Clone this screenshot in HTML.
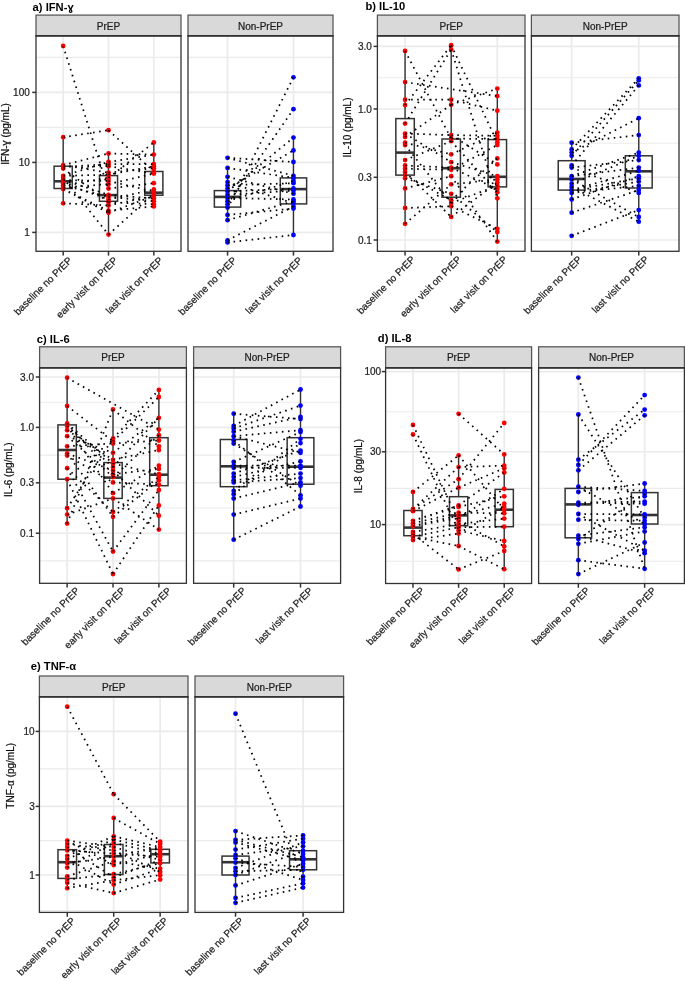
<!DOCTYPE html>
<html><head><meta charset="utf-8"><style>
html,body{margin:0;padding:0;background:#fff;}
body{width:685px;height:981px;overflow:hidden;font-family:"Liberation Sans",sans-serif;}
svg{display:block;}
</style></head><body>
<svg width="685" height="981" viewBox="0 0 685 981">
<rect width="685" height="981" fill="#fff"/>
<line x1="32.2" y1="92.4" x2="36" y2="92.4" stroke="#333333" stroke-width="1.5"/>
<line x1="32.2" y1="162.4" x2="36" y2="162.4" stroke="#333333" stroke-width="1.5"/>
<line x1="32.2" y1="232.4" x2="36" y2="232.4" stroke="#333333" stroke-width="1.5"/>
<rect x="36" y="15.1" width="145" height="20.9" fill="#D9D9D9" stroke="#555555" stroke-width="1.25"/>
<rect x="36" y="36" width="145" height="215.3" fill="#fff"/>
<line x1="36" y1="57.4" x2="181" y2="57.4" stroke="#EBEBEB" stroke-width="1.15"/>
<line x1="36" y1="127.4" x2="181" y2="127.4" stroke="#EBEBEB" stroke-width="1.15"/>
<line x1="36" y1="197.4" x2="181" y2="197.4" stroke="#EBEBEB" stroke-width="1.15"/>
<line x1="36" y1="92.4" x2="181" y2="92.4" stroke="#EBEBEB" stroke-width="1.6"/>
<line x1="36" y1="162.4" x2="181" y2="162.4" stroke="#EBEBEB" stroke-width="1.6"/>
<line x1="36" y1="232.4" x2="181" y2="232.4" stroke="#EBEBEB" stroke-width="1.6"/>
<line x1="63.19" y1="36" x2="63.19" y2="251.3" stroke="#EBEBEB" stroke-width="1.7"/>
<line x1="108.5" y1="36" x2="108.5" y2="251.3" stroke="#EBEBEB" stroke-width="1.7"/>
<line x1="153.81" y1="36" x2="153.81" y2="251.3" stroke="#EBEBEB" stroke-width="1.7"/>
<line x1="63.19" y1="137.2" x2="63.19" y2="166.2" stroke="#333333" stroke-width="1.4"/>
<line x1="63.19" y1="188.5" x2="63.19" y2="203.3" stroke="#333333" stroke-width="1.4"/>
<rect x="54.12" y="166.2" width="18.12" height="22.3" fill="none" stroke="#333333" stroke-width="1.5"/>
<line x1="54.12" y1="181.3" x2="72.25" y2="181.3" stroke="#333333" stroke-width="2.6"/>
<line x1="108.5" y1="153.5" x2="108.5" y2="175.6" stroke="#333333" stroke-width="1.4"/>
<line x1="108.5" y1="201.3" x2="108.5" y2="234.6" stroke="#333333" stroke-width="1.4"/>
<rect x="99.44" y="175.6" width="18.12" height="25.7" fill="none" stroke="#333333" stroke-width="1.5"/>
<line x1="99.44" y1="195.1" x2="117.56" y2="195.1" stroke="#333333" stroke-width="2.6"/>
<line x1="153.81" y1="142.5" x2="153.81" y2="171.5" stroke="#333333" stroke-width="1.4"/>
<line x1="153.81" y1="195.2" x2="153.81" y2="206.4" stroke="#333333" stroke-width="1.4"/>
<rect x="144.75" y="171.5" width="18.12" height="23.7" fill="none" stroke="#333333" stroke-width="1.5"/>
<line x1="144.75" y1="192.7" x2="162.88" y2="192.7" stroke="#333333" stroke-width="2.6"/>
<g fill="#FF0000"><circle cx="63.19" cy="46" r="2.4"/><circle cx="63.19" cy="137.2" r="2.4"/><circle cx="63.19" cy="165.2" r="2.4"/><circle cx="63.19" cy="166.9" r="2.4"/><circle cx="63.19" cy="168.5" r="2.4"/><circle cx="63.19" cy="175.8" r="2.4"/><circle cx="63.19" cy="177.9" r="2.4"/><circle cx="63.19" cy="180" r="2.4"/><circle cx="63.19" cy="183.2" r="2.4"/><circle cx="63.19" cy="185.3" r="2.4"/><circle cx="63.19" cy="187.4" r="2.4"/><circle cx="63.19" cy="189.1" r="2.4"/><circle cx="63.19" cy="203.3" r="2.4"/><circle cx="108.5" cy="130.2" r="2.4"/><circle cx="108.5" cy="153.5" r="2.4"/><circle cx="108.5" cy="162" r="2.4"/><circle cx="108.5" cy="164.1" r="2.4"/><circle cx="108.5" cy="166.2" r="2.4"/><circle cx="108.5" cy="172.6" r="2.4"/><circle cx="108.5" cy="174.7" r="2.4"/><circle cx="108.5" cy="177.9" r="2.4"/><circle cx="108.5" cy="181" r="2.4"/><circle cx="108.5" cy="184.2" r="2.4"/><circle cx="108.5" cy="188.5" r="2.4"/><circle cx="108.5" cy="194.8" r="2.4"/><circle cx="108.5" cy="196.9" r="2.4"/><circle cx="108.5" cy="199.5" r="2.4"/><circle cx="108.5" cy="202.2" r="2.4"/><circle cx="108.5" cy="205.4" r="2.4"/><circle cx="108.5" cy="210.7" r="2.4"/><circle cx="108.5" cy="212.8" r="2.4"/><circle cx="108.5" cy="234.6" r="2.4"/><circle cx="153.81" cy="142.5" r="2.4"/><circle cx="153.81" cy="154.6" r="2.4"/><circle cx="153.81" cy="164.1" r="2.4"/><circle cx="153.81" cy="166.2" r="2.4"/><circle cx="153.81" cy="168.3" r="2.4"/><circle cx="153.81" cy="171.5" r="2.4"/><circle cx="153.81" cy="173.6" r="2.4"/><circle cx="153.81" cy="183.2" r="2.4"/><circle cx="153.81" cy="189.5" r="2.4"/><circle cx="153.81" cy="191.6" r="2.4"/><circle cx="153.81" cy="193.7" r="2.4"/><circle cx="153.81" cy="195.9" r="2.4"/><circle cx="153.81" cy="198.6" r="2.4"/><circle cx="153.81" cy="201.2" r="2.4"/><circle cx="153.81" cy="204.3" r="2.4"/><circle cx="153.81" cy="206.4" r="2.4"/></g>
<path d="M63.19 46L108.5 190M63.19 137.2L108.5 130.2M63.19 165.2L108.5 172.6M63.19 165.2L108.5 153.5M63.19 166.9L108.5 164.1M63.19 166.9L108.5 166.2M63.19 168.5L108.5 202.2M63.19 175.8L108.5 174.7M63.19 175.8L108.5 162M63.19 177.9L108.5 234.6M63.19 180L108.5 181M63.19 180L108.5 194.8M63.19 183.2L108.5 199.5M63.19 185.3L108.5 196.9M63.19 185.3L108.5 177.9M63.19 187.4L108.5 184.2M63.19 189.1L108.5 210.7M63.19 189.1L108.5 212.8M63.19 203.3L108.5 205.4M108.5 130.2L153.81 171.5M108.5 177.9L153.81 142.5M108.5 153.5L153.81 154.6M108.5 162L153.81 154.6M108.5 164.1L153.81 164.1M108.5 166.2L153.81 173.6M108.5 172.6L153.81 168.3M108.5 174.7L153.81 166.2M108.5 181L153.81 191.6M108.5 184.2L153.81 173.6M108.5 188.5L153.81 183.2M108.5 194.8L153.81 198.6M108.5 196.9L153.81 201.2M108.5 199.5L153.81 189.5M108.5 202.2L153.81 204.3M108.5 205.4L153.81 195.9M108.5 210.7L153.81 206.4M108.5 212.8L153.81 195.9M108.5 234.6L153.81 193.7" fill="none" stroke="#000" stroke-width="1.75" stroke-dasharray="1.6 4.45"/>
<rect x="36" y="36" width="145" height="215.3" fill="none" stroke="#333333" stroke-width="1.3"/>
<line x1="35.5" y1="35.7" x2="181.5" y2="35.7" stroke="#333333" stroke-width="1.5"/>
<line x1="63.19" y1="251.3" x2="63.19" y2="255.6" stroke="#333333" stroke-width="1.5"/>
<line x1="108.5" y1="251.3" x2="108.5" y2="255.6" stroke="#333333" stroke-width="1.5"/>
<line x1="153.81" y1="251.3" x2="153.81" y2="255.6" stroke="#333333" stroke-width="1.5"/>
<rect x="188" y="15.1" width="145" height="20.9" fill="#D9D9D9" stroke="#555555" stroke-width="1.25"/>
<rect x="188" y="36" width="145" height="215.3" fill="#fff"/>
<line x1="188" y1="57.4" x2="333" y2="57.4" stroke="#EBEBEB" stroke-width="1.15"/>
<line x1="188" y1="127.4" x2="333" y2="127.4" stroke="#EBEBEB" stroke-width="1.15"/>
<line x1="188" y1="197.4" x2="333" y2="197.4" stroke="#EBEBEB" stroke-width="1.15"/>
<line x1="188" y1="92.4" x2="333" y2="92.4" stroke="#EBEBEB" stroke-width="1.6"/>
<line x1="188" y1="162.4" x2="333" y2="162.4" stroke="#EBEBEB" stroke-width="1.6"/>
<line x1="188" y1="232.4" x2="333" y2="232.4" stroke="#EBEBEB" stroke-width="1.6"/>
<line x1="227.55" y1="36" x2="227.55" y2="251.3" stroke="#EBEBEB" stroke-width="1.7"/>
<line x1="293.45" y1="36" x2="293.45" y2="251.3" stroke="#EBEBEB" stroke-width="1.7"/>
<line x1="227.55" y1="167.9" x2="227.55" y2="190.6" stroke="#333333" stroke-width="1.4"/>
<line x1="227.55" y1="207.1" x2="227.55" y2="220.2" stroke="#333333" stroke-width="1.4"/>
<rect x="214.36" y="190.6" width="26.36" height="16.5" fill="none" stroke="#333333" stroke-width="1.5"/>
<line x1="214.36" y1="196.9" x2="240.73" y2="196.9" stroke="#333333" stroke-width="2.6"/>
<line x1="293.45" y1="137.6" x2="293.45" y2="177.9" stroke="#333333" stroke-width="1.4"/>
<line x1="293.45" y1="203.9" x2="293.45" y2="235" stroke="#333333" stroke-width="1.4"/>
<rect x="280.27" y="177.9" width="26.36" height="26" fill="none" stroke="#333333" stroke-width="1.5"/>
<line x1="280.27" y1="189.1" x2="306.64" y2="189.1" stroke="#333333" stroke-width="2.6"/>
<g fill="#0000FF"><circle cx="227.55" cy="157.8" r="2.4"/><circle cx="227.55" cy="167.9" r="2.4"/><circle cx="227.55" cy="176.8" r="2.4"/><circle cx="227.55" cy="182.1" r="2.4"/><circle cx="227.55" cy="185.3" r="2.4"/><circle cx="227.55" cy="188.5" r="2.4"/><circle cx="227.55" cy="191.6" r="2.4"/><circle cx="227.55" cy="194.8" r="2.4"/><circle cx="227.55" cy="198" r="2.4"/><circle cx="227.55" cy="201.2" r="2.4"/><circle cx="227.55" cy="204.3" r="2.4"/><circle cx="227.55" cy="207.5" r="2.4"/><circle cx="227.55" cy="214.9" r="2.4"/><circle cx="227.55" cy="220.2" r="2.4"/><circle cx="227.55" cy="240.3" r="2.4"/><circle cx="227.55" cy="242.4" r="2.4"/><circle cx="293.45" cy="77.3" r="2.4"/><circle cx="293.45" cy="109.2" r="2.4"/><circle cx="293.45" cy="137.6" r="2.4"/><circle cx="293.45" cy="150.4" r="2.4"/><circle cx="293.45" cy="162" r="2.4"/><circle cx="293.45" cy="175.8" r="2.4"/><circle cx="293.45" cy="177.9" r="2.4"/><circle cx="293.45" cy="181" r="2.4"/><circle cx="293.45" cy="183.2" r="2.4"/><circle cx="293.45" cy="188.5" r="2.4"/><circle cx="293.45" cy="190.6" r="2.4"/><circle cx="293.45" cy="193.7" r="2.4"/><circle cx="293.45" cy="199.5" r="2.4"/><circle cx="293.45" cy="201.2" r="2.4"/><circle cx="293.45" cy="203.3" r="2.4"/><circle cx="293.45" cy="206.4" r="2.4"/><circle cx="293.45" cy="208.6" r="2.4"/><circle cx="293.45" cy="235" r="2.4"/></g>
<path d="M227.55 208.6L293.45 77.3M227.55 204.3L293.45 109.2M227.55 240.3L293.45 206.4M227.55 242.4L293.45 235M227.55 157.8L293.45 175.8M227.55 157.8L293.45 162M227.55 167.9L293.45 177.9M227.55 176.8L293.45 193.7M227.55 182.1L293.45 203.3M227.55 185.3L293.45 183.2M227.55 188.5L293.45 150.4M227.55 191.6L293.45 137.6M227.55 191.6L293.45 188.5M227.55 194.8L293.45 190.6M227.55 198L293.45 199.5M227.55 201.2L293.45 181M227.55 214.9L293.45 208.6M227.55 220.2L293.45 201.2" fill="none" stroke="#000" stroke-width="1.75" stroke-dasharray="1.6 4.45"/>
<rect x="188" y="36" width="145" height="215.3" fill="none" stroke="#333333" stroke-width="1.3"/>
<line x1="187.5" y1="35.7" x2="333.5" y2="35.7" stroke="#333333" stroke-width="1.5"/>
<line x1="227.55" y1="251.3" x2="227.55" y2="255.6" stroke="#333333" stroke-width="1.5"/>
<line x1="293.45" y1="251.3" x2="293.45" y2="255.6" stroke="#333333" stroke-width="1.5"/>
<line x1="373.6" y1="46.4" x2="377.4" y2="46.4" stroke="#333333" stroke-width="1.5"/>
<line x1="373.6" y1="109" x2="377.4" y2="109" stroke="#333333" stroke-width="1.5"/>
<line x1="373.6" y1="177.3" x2="377.4" y2="177.3" stroke="#333333" stroke-width="1.5"/>
<line x1="373.6" y1="240" x2="377.4" y2="240" stroke="#333333" stroke-width="1.5"/>
<rect x="377.4" y="15.1" width="147.6" height="20.9" fill="#D9D9D9" stroke="#555555" stroke-width="1.25"/>
<rect x="377.4" y="36" width="147.6" height="215.3" fill="#fff"/>
<line x1="377.4" y1="77.7" x2="525" y2="77.7" stroke="#EBEBEB" stroke-width="1.15"/>
<line x1="377.4" y1="143.2" x2="525" y2="143.2" stroke="#EBEBEB" stroke-width="1.15"/>
<line x1="377.4" y1="208.6" x2="525" y2="208.6" stroke="#EBEBEB" stroke-width="1.15"/>
<line x1="377.4" y1="46.4" x2="525" y2="46.4" stroke="#EBEBEB" stroke-width="1.6"/>
<line x1="377.4" y1="109" x2="525" y2="109" stroke="#EBEBEB" stroke-width="1.6"/>
<line x1="377.4" y1="177.3" x2="525" y2="177.3" stroke="#EBEBEB" stroke-width="1.6"/>
<line x1="377.4" y1="240" x2="525" y2="240" stroke="#EBEBEB" stroke-width="1.6"/>
<line x1="405.07" y1="36" x2="405.07" y2="251.3" stroke="#EBEBEB" stroke-width="1.7"/>
<line x1="451.2" y1="36" x2="451.2" y2="251.3" stroke="#EBEBEB" stroke-width="1.7"/>
<line x1="497.32" y1="36" x2="497.32" y2="251.3" stroke="#EBEBEB" stroke-width="1.7"/>
<line x1="405.07" y1="51" x2="405.07" y2="118.6" stroke="#333333" stroke-width="1.4"/>
<line x1="405.07" y1="175.1" x2="405.07" y2="223.8" stroke="#333333" stroke-width="1.4"/>
<rect x="395.85" y="118.6" width="18.45" height="56.5" fill="none" stroke="#333333" stroke-width="1.5"/>
<line x1="395.85" y1="152.6" x2="414.3" y2="152.6" stroke="#333333" stroke-width="2.6"/>
<line x1="451.2" y1="45.2" x2="451.2" y2="139" stroke="#333333" stroke-width="1.4"/>
<line x1="451.2" y1="197.2" x2="451.2" y2="216.9" stroke="#333333" stroke-width="1.4"/>
<rect x="441.97" y="139" width="18.45" height="58.2" fill="none" stroke="#333333" stroke-width="1.5"/>
<line x1="441.97" y1="168.2" x2="460.43" y2="168.2" stroke="#333333" stroke-width="2.6"/>
<line x1="497.32" y1="88.6" x2="497.32" y2="139.6" stroke="#333333" stroke-width="1.4"/>
<line x1="497.32" y1="186.9" x2="497.32" y2="241.6" stroke="#333333" stroke-width="1.4"/>
<rect x="488.1" y="139.6" width="18.45" height="47.3" fill="none" stroke="#333333" stroke-width="1.5"/>
<line x1="488.1" y1="176.8" x2="506.55" y2="176.8" stroke="#333333" stroke-width="2.6"/>
<g fill="#FF0000"><circle cx="405.07" cy="51" r="2.4"/><circle cx="405.07" cy="82.1" r="2.4"/><circle cx="405.07" cy="99.7" r="2.4"/><circle cx="405.07" cy="105.1" r="2.4"/><circle cx="405.07" cy="123.6" r="2.4"/><circle cx="405.07" cy="133.6" r="2.4"/><circle cx="405.07" cy="136.9" r="2.4"/><circle cx="405.07" cy="142.7" r="2.4"/><circle cx="405.07" cy="145" r="2.4"/><circle cx="405.07" cy="160.1" r="2.4"/><circle cx="405.07" cy="165.5" r="2.4"/><circle cx="405.07" cy="168.7" r="2.4"/><circle cx="405.07" cy="171.9" r="2.4"/><circle cx="405.07" cy="175.1" r="2.4"/><circle cx="405.07" cy="178.3" r="2.4"/><circle cx="405.07" cy="188.4" r="2.4"/><circle cx="405.07" cy="208" r="2.4"/><circle cx="405.07" cy="223.8" r="2.4"/><circle cx="451.2" cy="45.2" r="2.4"/><circle cx="451.2" cy="49.5" r="2.4"/><circle cx="451.2" cy="99.7" r="2.4"/><circle cx="451.2" cy="104.7" r="2.4"/><circle cx="451.2" cy="135.1" r="2.4"/><circle cx="451.2" cy="138.6" r="2.4"/><circle cx="451.2" cy="141.2" r="2.4"/><circle cx="451.2" cy="154.3" r="2.4"/><circle cx="451.2" cy="162.2" r="2.4"/><circle cx="451.2" cy="167.6" r="2.4"/><circle cx="451.2" cy="169.8" r="2.4"/><circle cx="451.2" cy="176.2" r="2.4"/><circle cx="451.2" cy="184.3" r="2.4"/><circle cx="451.2" cy="193.8" r="2.4"/><circle cx="451.2" cy="200.2" r="2.4"/><circle cx="451.2" cy="203" r="2.4"/><circle cx="451.2" cy="206.2" r="2.4"/><circle cx="451.2" cy="216.9" r="2.4"/><circle cx="497.32" cy="88.6" r="2.4"/><circle cx="497.32" cy="96.1" r="2.4"/><circle cx="497.32" cy="110.7" r="2.4"/><circle cx="497.32" cy="132.6" r="2.4"/><circle cx="497.32" cy="135.8" r="2.4"/><circle cx="497.32" cy="139" r="2.4"/><circle cx="497.32" cy="142.2" r="2.4"/><circle cx="497.32" cy="145" r="2.4"/><circle cx="497.32" cy="158.4" r="2.4"/><circle cx="497.32" cy="164.4" r="2.4"/><circle cx="497.32" cy="176.2" r="2.4"/><circle cx="497.32" cy="179.4" r="2.4"/><circle cx="497.32" cy="182.6" r="2.4"/><circle cx="497.32" cy="185.8" r="2.4"/><circle cx="497.32" cy="189.1" r="2.4"/><circle cx="497.32" cy="192.3" r="2.4"/><circle cx="497.32" cy="198.3" r="2.4"/><circle cx="497.32" cy="228.8" r="2.4"/><circle cx="497.32" cy="232" r="2.4"/><circle cx="497.32" cy="241.6" r="2.4"/></g>
<path d="M405.07 51L451.2 138.6M405.07 99.7L451.2 99.7M405.07 105.1L451.2 45.2M405.07 123.6L451.2 49.5M405.07 133.6L451.2 162.2M405.07 133.6L451.2 135.1M405.07 136.9L451.2 104.7M405.07 142.7L451.2 154.3M405.07 145L451.2 203M405.07 160.1L451.2 141.2M405.07 165.5L451.2 167.6M405.07 168.7L451.2 169.8M405.07 171.9L451.2 216.9M405.07 175.1L451.2 200.2M405.07 178.3L451.2 193.8M405.07 188.4L451.2 176.2M405.07 208L451.2 206.2M405.07 223.8L451.2 184.3M451.2 45.2L497.32 142.2M451.2 49.5L497.32 198.3M451.2 99.7L497.32 110.7M451.2 104.7L497.32 88.6M451.2 135.1L497.32 164.4M451.2 135.1L497.32 135.8M451.2 138.6L497.32 139M451.2 141.2L497.32 192.3M451.2 154.3L497.32 132.6M451.2 162.2L497.32 176.2M451.2 167.6L497.32 189.1M451.2 169.8L497.32 145M451.2 176.2L497.32 241.6M451.2 184.3L497.32 179.4M451.2 193.8L497.32 232M451.2 200.2L497.32 158.4M451.2 203L497.32 185.8M451.2 206.2L497.32 228.8M451.2 216.9L497.32 182.6M405.07 82.1L497.32 96.1" fill="none" stroke="#000" stroke-width="1.75" stroke-dasharray="1.6 4.45"/>
<rect x="377.4" y="36" width="147.6" height="215.3" fill="none" stroke="#333333" stroke-width="1.3"/>
<line x1="376.9" y1="35.7" x2="525.5" y2="35.7" stroke="#333333" stroke-width="1.5"/>
<line x1="405.07" y1="251.3" x2="405.07" y2="255.6" stroke="#333333" stroke-width="1.5"/>
<line x1="451.2" y1="251.3" x2="451.2" y2="255.6" stroke="#333333" stroke-width="1.5"/>
<line x1="497.32" y1="251.3" x2="497.32" y2="255.6" stroke="#333333" stroke-width="1.5"/>
<rect x="531.4" y="15.1" width="147.6" height="20.9" fill="#D9D9D9" stroke="#555555" stroke-width="1.25"/>
<rect x="531.4" y="36" width="147.6" height="215.3" fill="#fff"/>
<line x1="531.4" y1="77.7" x2="679" y2="77.7" stroke="#EBEBEB" stroke-width="1.15"/>
<line x1="531.4" y1="143.2" x2="679" y2="143.2" stroke="#EBEBEB" stroke-width="1.15"/>
<line x1="531.4" y1="208.6" x2="679" y2="208.6" stroke="#EBEBEB" stroke-width="1.15"/>
<line x1="531.4" y1="46.4" x2="679" y2="46.4" stroke="#EBEBEB" stroke-width="1.6"/>
<line x1="531.4" y1="109" x2="679" y2="109" stroke="#EBEBEB" stroke-width="1.6"/>
<line x1="531.4" y1="177.3" x2="679" y2="177.3" stroke="#EBEBEB" stroke-width="1.6"/>
<line x1="531.4" y1="240" x2="679" y2="240" stroke="#EBEBEB" stroke-width="1.6"/>
<line x1="571.65" y1="36" x2="571.65" y2="251.3" stroke="#EBEBEB" stroke-width="1.7"/>
<line x1="638.75" y1="36" x2="638.75" y2="251.3" stroke="#EBEBEB" stroke-width="1.7"/>
<line x1="571.65" y1="142.7" x2="571.65" y2="160.7" stroke="#333333" stroke-width="1.4"/>
<line x1="571.65" y1="190.1" x2="571.65" y2="212.7" stroke="#333333" stroke-width="1.4"/>
<rect x="558.24" y="160.7" width="26.84" height="29.4" fill="none" stroke="#333333" stroke-width="1.5"/>
<line x1="558.24" y1="179" x2="585.07" y2="179" stroke="#333333" stroke-width="2.6"/>
<line x1="638.75" y1="118.2" x2="638.75" y2="155.8" stroke="#333333" stroke-width="1.4"/>
<line x1="638.75" y1="188" x2="638.75" y2="221.7" stroke="#333333" stroke-width="1.4"/>
<rect x="625.33" y="155.8" width="26.84" height="32.2" fill="none" stroke="#333333" stroke-width="1.5"/>
<line x1="625.33" y1="171.3" x2="652.16" y2="171.3" stroke="#333333" stroke-width="2.6"/>
<g fill="#0000FF"><circle cx="571.65" cy="142.7" r="2.4"/><circle cx="571.65" cy="149.4" r="2.4"/><circle cx="571.65" cy="152.6" r="2.4"/><circle cx="571.65" cy="155.8" r="2.4"/><circle cx="571.65" cy="165.5" r="2.4"/><circle cx="571.65" cy="167.6" r="2.4"/><circle cx="571.65" cy="176.2" r="2.4"/><circle cx="571.65" cy="179.4" r="2.4"/><circle cx="571.65" cy="183.7" r="2.4"/><circle cx="571.65" cy="186.9" r="2.4"/><circle cx="571.65" cy="190.1" r="2.4"/><circle cx="571.65" cy="192.9" r="2.4"/><circle cx="571.65" cy="199.4" r="2.4"/><circle cx="571.65" cy="212.7" r="2.4"/><circle cx="571.65" cy="235.8" r="2.4"/><circle cx="638.75" cy="78.3" r="2.4"/><circle cx="638.75" cy="80.4" r="2.4"/><circle cx="638.75" cy="85.4" r="2.4"/><circle cx="638.75" cy="118.2" r="2.4"/><circle cx="638.75" cy="135.1" r="2.4"/><circle cx="638.75" cy="152.6" r="2.4"/><circle cx="638.75" cy="155.8" r="2.4"/><circle cx="638.75" cy="160.1" r="2.4"/><circle cx="638.75" cy="167.6" r="2.4"/><circle cx="638.75" cy="170.8" r="2.4"/><circle cx="638.75" cy="176.2" r="2.4"/><circle cx="638.75" cy="178.3" r="2.4"/><circle cx="638.75" cy="181.6" r="2.4"/><circle cx="638.75" cy="185.8" r="2.4"/><circle cx="638.75" cy="190.1" r="2.4"/><circle cx="638.75" cy="192.9" r="2.4"/><circle cx="638.75" cy="210.1" r="2.4"/><circle cx="638.75" cy="217" r="2.4"/><circle cx="638.75" cy="221.7" r="2.4"/></g>
<path d="M571.65 149.4L638.75 78.3M571.65 165.5L638.75 85.4M571.65 155.8L638.75 80.4M571.65 152.6L638.75 118.2M571.65 142.7L638.75 135.1M571.65 235.8L638.75 210.1M571.65 212.7L638.75 190.1M571.65 179.4L638.75 217M571.65 186.9L638.75 221.7M571.65 167.6L638.75 160.1M571.65 167.6L638.75 192.9M571.65 176.2L638.75 152.6M571.65 176.2L638.75 167.6M571.65 183.7L638.75 155.8M571.65 190.1L638.75 170.8M571.65 190.1L638.75 178.3M571.65 192.9L638.75 181.6M571.65 192.9L638.75 185.8M571.65 199.4L638.75 176.2" fill="none" stroke="#000" stroke-width="1.75" stroke-dasharray="1.6 4.45"/>
<rect x="531.4" y="36" width="147.6" height="215.3" fill="none" stroke="#333333" stroke-width="1.3"/>
<line x1="530.9" y1="35.7" x2="679.5" y2="35.7" stroke="#333333" stroke-width="1.5"/>
<line x1="571.65" y1="251.3" x2="571.65" y2="255.6" stroke="#333333" stroke-width="1.5"/>
<line x1="638.75" y1="251.3" x2="638.75" y2="255.6" stroke="#333333" stroke-width="1.5"/>
<line x1="35.8" y1="377" x2="39.6" y2="377" stroke="#333333" stroke-width="1.5"/>
<line x1="35.8" y1="427.4" x2="39.6" y2="427.4" stroke="#333333" stroke-width="1.5"/>
<line x1="35.8" y1="482.8" x2="39.6" y2="482.8" stroke="#333333" stroke-width="1.5"/>
<line x1="35.8" y1="533.2" x2="39.6" y2="533.2" stroke="#333333" stroke-width="1.5"/>
<rect x="39.6" y="346.8" width="146.8" height="21.2" fill="#D9D9D9" stroke="#555555" stroke-width="1.25"/>
<rect x="39.6" y="368" width="146.8" height="215.3" fill="#fff"/>
<line x1="39.6" y1="402.2" x2="186.4" y2="402.2" stroke="#EBEBEB" stroke-width="1.15"/>
<line x1="39.6" y1="455.1" x2="186.4" y2="455.1" stroke="#EBEBEB" stroke-width="1.15"/>
<line x1="39.6" y1="508" x2="186.4" y2="508" stroke="#EBEBEB" stroke-width="1.15"/>
<line x1="39.6" y1="560.8" x2="186.4" y2="560.8" stroke="#EBEBEB" stroke-width="1.15"/>
<line x1="39.6" y1="377" x2="186.4" y2="377" stroke="#EBEBEB" stroke-width="1.6"/>
<line x1="39.6" y1="427.4" x2="186.4" y2="427.4" stroke="#EBEBEB" stroke-width="1.6"/>
<line x1="39.6" y1="482.8" x2="186.4" y2="482.8" stroke="#EBEBEB" stroke-width="1.6"/>
<line x1="39.6" y1="533.2" x2="186.4" y2="533.2" stroke="#EBEBEB" stroke-width="1.6"/>
<line x1="67.12" y1="368" x2="67.12" y2="583.3" stroke="#EBEBEB" stroke-width="1.7"/>
<line x1="113" y1="368" x2="113" y2="583.3" stroke="#EBEBEB" stroke-width="1.7"/>
<line x1="158.88" y1="368" x2="158.88" y2="583.3" stroke="#EBEBEB" stroke-width="1.7"/>
<line x1="67.12" y1="377.7" x2="67.12" y2="424.9" stroke="#333333" stroke-width="1.4"/>
<line x1="67.12" y1="479.2" x2="67.12" y2="523.6" stroke="#333333" stroke-width="1.4"/>
<rect x="57.95" y="424.9" width="18.35" height="54.3" fill="none" stroke="#333333" stroke-width="1.5"/>
<line x1="57.95" y1="450" x2="76.3" y2="450" stroke="#333333" stroke-width="2.6"/>
<line x1="113" y1="409.4" x2="113" y2="462.6" stroke="#333333" stroke-width="1.4"/>
<line x1="113" y1="498.4" x2="113" y2="551.5" stroke="#333333" stroke-width="1.4"/>
<rect x="103.83" y="462.6" width="18.35" height="35.8" fill="none" stroke="#333333" stroke-width="1.5"/>
<line x1="103.83" y1="477.6" x2="122.17" y2="477.6" stroke="#333333" stroke-width="2.6"/>
<line x1="158.88" y1="389.9" x2="158.88" y2="437.7" stroke="#333333" stroke-width="1.4"/>
<line x1="158.88" y1="485.7" x2="158.88" y2="529.6" stroke="#333333" stroke-width="1.4"/>
<rect x="149.7" y="437.7" width="18.35" height="48" fill="none" stroke="#333333" stroke-width="1.5"/>
<line x1="149.7" y1="474.7" x2="168.05" y2="474.7" stroke="#333333" stroke-width="2.6"/>
<g fill="#FF0000"><circle cx="67.12" cy="377.7" r="2.4"/><circle cx="67.12" cy="406" r="2.4"/><circle cx="67.12" cy="423.4" r="2.4"/><circle cx="67.12" cy="425.9" r="2.4"/><circle cx="67.12" cy="430.2" r="2.4"/><circle cx="67.12" cy="436.2" r="2.4"/><circle cx="67.12" cy="446.3" r="2.4"/><circle cx="67.12" cy="453.4" r="2.4"/><circle cx="67.12" cy="455.6" r="2.4"/><circle cx="67.12" cy="468.2" r="2.4"/><circle cx="67.12" cy="479.2" r="2.4"/><circle cx="67.12" cy="508.2" r="2.4"/><circle cx="67.12" cy="514.6" r="2.4"/><circle cx="67.12" cy="523.6" r="2.4"/><circle cx="113" cy="409.4" r="2.4"/><circle cx="113" cy="438.4" r="2.4"/><circle cx="113" cy="441.4" r="2.4"/><circle cx="113" cy="443.5" r="2.4"/><circle cx="113" cy="452.8" r="2.4"/><circle cx="113" cy="459.8" r="2.4"/><circle cx="113" cy="463.5" r="2.4"/><circle cx="113" cy="467.1" r="2.4"/><circle cx="113" cy="470.4" r="2.4"/><circle cx="113" cy="474.2" r="2.4"/><circle cx="113" cy="477" r="2.4"/><circle cx="113" cy="482.4" r="2.4"/><circle cx="113" cy="493.2" r="2.4"/><circle cx="113" cy="498.5" r="2.4"/><circle cx="113" cy="512" r="2.4"/><circle cx="113" cy="516.8" r="2.4"/><circle cx="113" cy="551.5" r="2.4"/><circle cx="113" cy="574" r="2.4"/><circle cx="158.88" cy="389.9" r="2.4"/><circle cx="158.88" cy="397" r="2.4"/><circle cx="158.88" cy="417.8" r="2.4"/><circle cx="158.88" cy="429.6" r="2.4"/><circle cx="158.88" cy="435.2" r="2.4"/><circle cx="158.88" cy="440.5" r="2.4"/><circle cx="158.88" cy="446.3" r="2.4"/><circle cx="158.88" cy="450" r="2.4"/><circle cx="158.88" cy="465.6" r="2.4"/><circle cx="158.88" cy="468.9" r="2.4"/><circle cx="158.88" cy="474.2" r="2.4"/><circle cx="158.88" cy="477" r="2.4"/><circle cx="158.88" cy="480.3" r="2.4"/><circle cx="158.88" cy="484.6" r="2.4"/><circle cx="158.88" cy="490" r="2.4"/><circle cx="158.88" cy="505.4" r="2.4"/><circle cx="158.88" cy="515.7" r="2.4"/><circle cx="158.88" cy="529.6" r="2.4"/></g>
<path d="M67.12 406L113 441.4M67.12 508.2L113 438.4M67.12 523.6L113 409.4M67.12 479.2L113 574M67.12 423.4L113 463.5M67.12 423.4L113 474.2M67.12 425.9L113 467.1M67.12 425.9L113 493.2M67.12 430.2L113 459.8M67.12 436.2L113 452.8M67.12 436.2L113 477M67.12 446.3L113 443.5M67.12 453.4L113 470.4M67.12 453.4L113 516.8M67.12 455.6L113 482.4M67.12 468.2L113 512M67.12 468.2L113 551.5M67.12 514.6L113 498.5M113 409.4L158.88 446.3M113 438.4L158.88 389.9M113 441.4L158.88 397M113 574L158.88 505.4M113 551.5L158.88 490M113 443.5L158.88 440.5M113 452.8L158.88 417.8M113 459.8L158.88 450M113 463.5L158.88 474.2M113 467.1L158.88 417.8M113 470.4L158.88 515.7M113 474.2L158.88 468.9M113 477L158.88 435.2M113 482.4L158.88 484.6M113 493.2L158.88 465.6M113 498.5L158.88 529.6M113 512L158.88 477M113 516.8L158.88 480.3M67.12 377.7L158.88 429.6" fill="none" stroke="#000" stroke-width="1.75" stroke-dasharray="1.6 4.45"/>
<rect x="39.6" y="368" width="146.8" height="215.3" fill="none" stroke="#333333" stroke-width="1.3"/>
<line x1="39.1" y1="367.7" x2="186.9" y2="367.7" stroke="#333333" stroke-width="1.5"/>
<line x1="67.12" y1="583.3" x2="67.12" y2="587.6" stroke="#333333" stroke-width="1.5"/>
<line x1="113" y1="583.3" x2="113" y2="587.6" stroke="#333333" stroke-width="1.5"/>
<line x1="158.88" y1="583.3" x2="158.88" y2="587.6" stroke="#333333" stroke-width="1.5"/>
<rect x="193.6" y="346.8" width="147" height="21.2" fill="#D9D9D9" stroke="#555555" stroke-width="1.25"/>
<rect x="193.6" y="368" width="147" height="215.3" fill="#fff"/>
<line x1="193.6" y1="402.2" x2="340.6" y2="402.2" stroke="#EBEBEB" stroke-width="1.15"/>
<line x1="193.6" y1="455.1" x2="340.6" y2="455.1" stroke="#EBEBEB" stroke-width="1.15"/>
<line x1="193.6" y1="508" x2="340.6" y2="508" stroke="#EBEBEB" stroke-width="1.15"/>
<line x1="193.6" y1="560.8" x2="340.6" y2="560.8" stroke="#EBEBEB" stroke-width="1.15"/>
<line x1="193.6" y1="377" x2="340.6" y2="377" stroke="#EBEBEB" stroke-width="1.6"/>
<line x1="193.6" y1="427.4" x2="340.6" y2="427.4" stroke="#EBEBEB" stroke-width="1.6"/>
<line x1="193.6" y1="482.8" x2="340.6" y2="482.8" stroke="#EBEBEB" stroke-width="1.6"/>
<line x1="193.6" y1="533.2" x2="340.6" y2="533.2" stroke="#EBEBEB" stroke-width="1.6"/>
<line x1="233.69" y1="368" x2="233.69" y2="583.3" stroke="#EBEBEB" stroke-width="1.7"/>
<line x1="300.51" y1="368" x2="300.51" y2="583.3" stroke="#EBEBEB" stroke-width="1.7"/>
<line x1="233.69" y1="413.7" x2="233.69" y2="439.5" stroke="#333333" stroke-width="1.4"/>
<line x1="233.69" y1="486.7" x2="233.69" y2="539.7" stroke="#333333" stroke-width="1.4"/>
<rect x="220.33" y="439.5" width="26.73" height="47.2" fill="none" stroke="#333333" stroke-width="1.5"/>
<line x1="220.33" y1="466.3" x2="247.05" y2="466.3" stroke="#333333" stroke-width="2.6"/>
<line x1="300.51" y1="389.5" x2="300.51" y2="437.7" stroke="#333333" stroke-width="1.4"/>
<line x1="300.51" y1="484.2" x2="300.51" y2="506.5" stroke="#333333" stroke-width="1.4"/>
<rect x="287.15" y="437.7" width="26.73" height="46.5" fill="none" stroke="#333333" stroke-width="1.5"/>
<line x1="287.15" y1="466.7" x2="313.87" y2="466.7" stroke="#333333" stroke-width="2.6"/>
<g fill="#0000FF"><circle cx="233.69" cy="413.7" r="2.4"/><circle cx="233.69" cy="425.9" r="2.4"/><circle cx="233.69" cy="428.5" r="2.4"/><circle cx="233.69" cy="431.7" r="2.4"/><circle cx="233.69" cy="436.2" r="2.4"/><circle cx="233.69" cy="440.5" r="2.4"/><circle cx="233.69" cy="443.5" r="2.4"/><circle cx="233.69" cy="462" r="2.4"/><circle cx="233.69" cy="465.6" r="2.4"/><circle cx="233.69" cy="467.8" r="2.4"/><circle cx="233.69" cy="473.6" r="2.4"/><circle cx="233.69" cy="477" r="2.4"/><circle cx="233.69" cy="480.3" r="2.4"/><circle cx="233.69" cy="482.4" r="2.4"/><circle cx="233.69" cy="491" r="2.4"/><circle cx="233.69" cy="494.2" r="2.4"/><circle cx="233.69" cy="498.5" r="2.4"/><circle cx="233.69" cy="514.6" r="2.4"/><circle cx="233.69" cy="539.7" r="2.4"/><circle cx="300.51" cy="389.5" r="2.4"/><circle cx="300.51" cy="405.6" r="2.4"/><circle cx="300.51" cy="416.9" r="2.4"/><circle cx="300.51" cy="419.1" r="2.4"/><circle cx="300.51" cy="430.2" r="2.4"/><circle cx="300.51" cy="432" r="2.4"/><circle cx="300.51" cy="438.8" r="2.4"/><circle cx="300.51" cy="443.1" r="2.4"/><circle cx="300.51" cy="450.6" r="2.4"/><circle cx="300.51" cy="452.8" r="2.4"/><circle cx="300.51" cy="461.3" r="2.4"/><circle cx="300.51" cy="465.6" r="2.4"/><circle cx="300.51" cy="467.8" r="2.4"/><circle cx="300.51" cy="473.6" r="2.4"/><circle cx="300.51" cy="478.1" r="2.4"/><circle cx="300.51" cy="482.4" r="2.4"/><circle cx="300.51" cy="485.7" r="2.4"/><circle cx="300.51" cy="495.3" r="2.4"/><circle cx="300.51" cy="498.5" r="2.4"/><circle cx="300.51" cy="506.5" r="2.4"/></g>
<path d="M233.69 413.7L300.51 419.1M233.69 425.9L300.51 389.5M233.69 428.5L300.51 405.6M233.69 431.7L300.51 416.9M233.69 440.5L300.51 495.3M233.69 443.5L300.51 485.7M233.69 491L300.51 438.8M233.69 494.2L300.51 443.1M233.69 514.6L300.51 498.5M233.69 539.7L300.51 506.5M233.69 436.2L300.51 452.8M233.69 436.2L300.51 430.2M233.69 462L300.51 432M233.69 465.6L300.51 465.6M233.69 467.8L300.51 467.8M233.69 473.6L300.51 450.6M233.69 477L300.51 461.3M233.69 480.3L300.51 473.6M233.69 482.4L300.51 478.1M233.69 498.5L300.51 482.4" fill="none" stroke="#000" stroke-width="1.75" stroke-dasharray="1.6 4.45"/>
<rect x="193.6" y="368" width="147" height="215.3" fill="none" stroke="#333333" stroke-width="1.3"/>
<line x1="193.1" y1="367.7" x2="341.1" y2="367.7" stroke="#333333" stroke-width="1.5"/>
<line x1="233.69" y1="583.3" x2="233.69" y2="587.6" stroke="#333333" stroke-width="1.5"/>
<line x1="300.51" y1="583.3" x2="300.51" y2="587.6" stroke="#333333" stroke-width="1.5"/>
<line x1="381.8" y1="371.6" x2="385.6" y2="371.6" stroke="#333333" stroke-width="1.5"/>
<line x1="381.8" y1="451.8" x2="385.6" y2="451.8" stroke="#333333" stroke-width="1.5"/>
<line x1="381.8" y1="524.6" x2="385.6" y2="524.6" stroke="#333333" stroke-width="1.5"/>
<rect x="385.6" y="346.8" width="146" height="21.2" fill="#D9D9D9" stroke="#555555" stroke-width="1.25"/>
<rect x="385.6" y="368" width="146" height="215.5" fill="#fff"/>
<line x1="385.6" y1="411.7" x2="531.6" y2="411.7" stroke="#EBEBEB" stroke-width="1.15"/>
<line x1="385.6" y1="488.3" x2="531.6" y2="488.3" stroke="#EBEBEB" stroke-width="1.15"/>
<line x1="385.6" y1="561.2" x2="531.6" y2="561.2" stroke="#EBEBEB" stroke-width="1.15"/>
<line x1="385.6" y1="371.6" x2="531.6" y2="371.6" stroke="#EBEBEB" stroke-width="1.6"/>
<line x1="385.6" y1="451.8" x2="531.6" y2="451.8" stroke="#EBEBEB" stroke-width="1.6"/>
<line x1="385.6" y1="524.6" x2="531.6" y2="524.6" stroke="#EBEBEB" stroke-width="1.6"/>
<line x1="412.98" y1="368" x2="412.98" y2="583.5" stroke="#EBEBEB" stroke-width="1.7"/>
<line x1="458.6" y1="368" x2="458.6" y2="583.5" stroke="#EBEBEB" stroke-width="1.7"/>
<line x1="504.23" y1="368" x2="504.23" y2="583.5" stroke="#EBEBEB" stroke-width="1.7"/>
<line x1="412.98" y1="492" x2="412.98" y2="510.5" stroke="#333333" stroke-width="1.4"/>
<line x1="412.98" y1="535.7" x2="412.98" y2="540" stroke="#333333" stroke-width="1.4"/>
<rect x="403.85" y="510.5" width="18.25" height="25.2" fill="none" stroke="#333333" stroke-width="1.5"/>
<line x1="403.85" y1="527.6" x2="422.1" y2="527.6" stroke="#333333" stroke-width="2.6"/>
<line x1="458.6" y1="455.4" x2="458.6" y2="496.7" stroke="#333333" stroke-width="1.4"/>
<line x1="458.6" y1="525.7" x2="458.6" y2="546" stroke="#333333" stroke-width="1.4"/>
<rect x="449.48" y="496.7" width="18.25" height="29" fill="none" stroke="#333333" stroke-width="1.5"/>
<line x1="449.48" y1="515.4" x2="467.73" y2="515.4" stroke="#333333" stroke-width="2.6"/>
<line x1="504.23" y1="454.4" x2="504.23" y2="489.4" stroke="#333333" stroke-width="1.4"/>
<line x1="504.23" y1="526.7" x2="504.23" y2="569.2" stroke="#333333" stroke-width="1.4"/>
<rect x="495.1" y="489.4" width="18.25" height="37.3" fill="none" stroke="#333333" stroke-width="1.5"/>
<line x1="495.1" y1="509.7" x2="513.35" y2="509.7" stroke="#333333" stroke-width="2.6"/>
<g fill="#FF0000"><circle cx="412.98" cy="424.9" r="2.4"/><circle cx="412.98" cy="434.5" r="2.4"/><circle cx="412.98" cy="492" r="2.4"/><circle cx="412.98" cy="509" r="2.4"/><circle cx="412.98" cy="511.2" r="2.4"/><circle cx="412.98" cy="520.8" r="2.4"/><circle cx="412.98" cy="523.3" r="2.4"/><circle cx="412.98" cy="526.1" r="2.4"/><circle cx="412.98" cy="531.9" r="2.4"/><circle cx="412.98" cy="534" r="2.4"/><circle cx="412.98" cy="536.8" r="2.4"/><circle cx="412.98" cy="540" r="2.4"/><circle cx="458.6" cy="413.8" r="2.4"/><circle cx="458.6" cy="455.4" r="2.4"/><circle cx="458.6" cy="467.1" r="2.4"/><circle cx="458.6" cy="479.2" r="2.4"/><circle cx="458.6" cy="487.7" r="2.4"/><circle cx="458.6" cy="505.4" r="2.4"/><circle cx="458.6" cy="506.9" r="2.4"/><circle cx="458.6" cy="512.7" r="2.4"/><circle cx="458.6" cy="515.4" r="2.4"/><circle cx="458.6" cy="518.2" r="2.4"/><circle cx="458.6" cy="520.8" r="2.4"/><circle cx="458.6" cy="524" r="2.4"/><circle cx="458.6" cy="527.2" r="2.4"/><circle cx="458.6" cy="530.4" r="2.4"/><circle cx="458.6" cy="533.6" r="2.4"/><circle cx="458.6" cy="546" r="2.4"/><circle cx="458.6" cy="569.4" r="2.4"/><circle cx="504.23" cy="423" r="2.4"/><circle cx="504.23" cy="454.4" r="2.4"/><circle cx="504.23" cy="465.7" r="2.4"/><circle cx="504.23" cy="468.2" r="2.4"/><circle cx="504.23" cy="472.5" r="2.4"/><circle cx="504.23" cy="488.8" r="2.4"/><circle cx="504.23" cy="496.3" r="2.4"/><circle cx="504.23" cy="503.7" r="2.4"/><circle cx="504.23" cy="506.9" r="2.4"/><circle cx="504.23" cy="510.1" r="2.4"/><circle cx="504.23" cy="513.3" r="2.4"/><circle cx="504.23" cy="518.6" r="2.4"/><circle cx="504.23" cy="526.7" r="2.4"/><circle cx="504.23" cy="541" r="2.4"/><circle cx="504.23" cy="546.4" r="2.4"/><circle cx="504.23" cy="551" r="2.4"/><circle cx="504.23" cy="569.2" r="2.4"/></g>
<path d="M412.98 424.9L458.6 521M412.98 434.5L458.6 530.4M412.98 534L458.6 569.4M412.98 492L458.6 455.4M412.98 509L458.6 467.1M412.98 509L458.6 479.2M412.98 511.2L458.6 487.7M412.98 520.8L458.6 506.9M412.98 520.8L458.6 505.4M412.98 523.3L458.6 512.7M412.98 526.1L458.6 518.2M412.98 526.1L458.6 515.4M412.98 531.9L458.6 524M412.98 536.8L458.6 527.2M412.98 536.8L458.6 546M412.98 540L458.6 533.6M458.6 413.8L504.23 454.4M458.6 479.2L504.23 423M458.6 569.4L504.23 551M458.6 455.4L504.23 510.1M458.6 467.1L504.23 465.7M458.6 487.7L504.23 468.2M458.6 505.4L504.23 472.5M458.6 506.9L504.23 496.3M458.6 512.7L504.23 513.3M458.6 515.4L504.23 503.7M458.6 518.2L504.23 488.8M458.6 520.8L504.23 546.4M458.6 524L504.23 518.6M458.6 527.2L504.23 526.7M458.6 530.4L504.23 541M458.6 533.6L504.23 506.9M458.6 546L504.23 569.2" fill="none" stroke="#000" stroke-width="1.75" stroke-dasharray="1.6 4.45"/>
<rect x="385.6" y="368" width="146" height="215.5" fill="none" stroke="#333333" stroke-width="1.3"/>
<line x1="385.1" y1="367.7" x2="532.1" y2="367.7" stroke="#333333" stroke-width="1.5"/>
<line x1="412.98" y1="583.5" x2="412.98" y2="587.8" stroke="#333333" stroke-width="1.5"/>
<line x1="458.6" y1="583.5" x2="458.6" y2="587.8" stroke="#333333" stroke-width="1.5"/>
<line x1="504.23" y1="583.5" x2="504.23" y2="587.8" stroke="#333333" stroke-width="1.5"/>
<rect x="538.6" y="346.8" width="145.8" height="21.2" fill="#D9D9D9" stroke="#555555" stroke-width="1.25"/>
<rect x="538.6" y="368" width="145.8" height="215.5" fill="#fff"/>
<line x1="538.6" y1="411.7" x2="684.4" y2="411.7" stroke="#EBEBEB" stroke-width="1.15"/>
<line x1="538.6" y1="488.3" x2="684.4" y2="488.3" stroke="#EBEBEB" stroke-width="1.15"/>
<line x1="538.6" y1="561.2" x2="684.4" y2="561.2" stroke="#EBEBEB" stroke-width="1.15"/>
<line x1="538.6" y1="371.6" x2="684.4" y2="371.6" stroke="#EBEBEB" stroke-width="1.6"/>
<line x1="538.6" y1="451.8" x2="684.4" y2="451.8" stroke="#EBEBEB" stroke-width="1.6"/>
<line x1="538.6" y1="524.6" x2="684.4" y2="524.6" stroke="#EBEBEB" stroke-width="1.6"/>
<line x1="578.36" y1="368" x2="578.36" y2="583.5" stroke="#EBEBEB" stroke-width="1.7"/>
<line x1="644.64" y1="368" x2="644.64" y2="583.5" stroke="#EBEBEB" stroke-width="1.7"/>
<line x1="578.36" y1="414.5" x2="578.36" y2="488.4" stroke="#333333" stroke-width="1.4"/>
<line x1="578.36" y1="537.8" x2="578.36" y2="574.1" stroke="#333333" stroke-width="1.4"/>
<rect x="565.11" y="488.4" width="26.51" height="49.4" fill="none" stroke="#333333" stroke-width="1.5"/>
<line x1="565.11" y1="504.4" x2="591.62" y2="504.4" stroke="#333333" stroke-width="2.6"/>
<line x1="644.64" y1="483.5" x2="644.64" y2="492.6" stroke="#333333" stroke-width="1.4"/>
<line x1="644.64" y1="524" x2="644.64" y2="568.8" stroke="#333333" stroke-width="1.4"/>
<rect x="631.38" y="492.6" width="26.51" height="31.4" fill="none" stroke="#333333" stroke-width="1.5"/>
<line x1="631.38" y1="515" x2="657.89" y2="515" stroke="#333333" stroke-width="2.6"/>
<g fill="#0000FF"><circle cx="578.36" cy="377.6" r="2.4"/><circle cx="578.36" cy="414.5" r="2.4"/><circle cx="578.36" cy="459.7" r="2.4"/><circle cx="578.36" cy="465" r="2.4"/><circle cx="578.36" cy="470.3" r="2.4"/><circle cx="578.36" cy="486.7" r="2.4"/><circle cx="578.36" cy="492" r="2.4"/><circle cx="578.36" cy="502.7" r="2.4"/><circle cx="578.36" cy="504.8" r="2.4"/><circle cx="578.36" cy="514" r="2.4"/><circle cx="578.36" cy="519.7" r="2.4"/><circle cx="578.36" cy="535.7" r="2.4"/><circle cx="578.36" cy="538.9" r="2.4"/><circle cx="578.36" cy="543.8" r="2.4"/><circle cx="578.36" cy="560.2" r="2.4"/><circle cx="578.36" cy="574.1" r="2.4"/><circle cx="644.64" cy="395.1" r="2.4"/><circle cx="644.64" cy="409.6" r="2.4"/><circle cx="644.64" cy="415.3" r="2.4"/><circle cx="644.64" cy="483.5" r="2.4"/><circle cx="644.64" cy="490.9" r="2.4"/><circle cx="644.64" cy="494.1" r="2.4"/><circle cx="644.64" cy="496.3" r="2.4"/><circle cx="644.64" cy="501.6" r="2.4"/><circle cx="644.64" cy="503.7" r="2.4"/><circle cx="644.64" cy="514.4" r="2.4"/><circle cx="644.64" cy="517.6" r="2.4"/><circle cx="644.64" cy="520.8" r="2.4"/><circle cx="644.64" cy="524" r="2.4"/><circle cx="644.64" cy="527.2" r="2.4"/><circle cx="644.64" cy="531.4" r="2.4"/><circle cx="644.64" cy="542.5" r="2.4"/><circle cx="644.64" cy="550.6" r="2.4"/><circle cx="644.64" cy="553.2" r="2.4"/><circle cx="644.64" cy="568.8" r="2.4"/></g>
<path d="M578.36 377.6L644.64 568.8M578.36 414.5L644.64 517.6M578.36 465L644.64 395.1M578.36 459.7L644.64 409.6M578.36 470.3L644.64 415.3M578.36 560.2L644.64 568.8M578.36 574.1L644.64 542.5M578.36 486.7L644.64 524M578.36 486.7L644.64 490.9M578.36 492L644.64 483.5M578.36 502.7L644.64 501.6M578.36 502.7L644.64 503.7M578.36 504.8L644.64 496.3M578.36 514L644.64 514.4M578.36 514L644.64 550.6M578.36 519.7L644.64 520.8M578.36 535.7L644.64 527.2M578.36 535.7L644.64 553.2M578.36 538.9L644.64 494.1M578.36 543.8L644.64 531.4" fill="none" stroke="#000" stroke-width="1.75" stroke-dasharray="1.6 4.45"/>
<rect x="538.6" y="368" width="145.8" height="215.5" fill="none" stroke="#333333" stroke-width="1.3"/>
<line x1="538.1" y1="367.7" x2="684.9" y2="367.7" stroke="#333333" stroke-width="1.5"/>
<line x1="578.36" y1="583.5" x2="578.36" y2="587.8" stroke="#333333" stroke-width="1.5"/>
<line x1="644.64" y1="583.5" x2="644.64" y2="587.8" stroke="#333333" stroke-width="1.5"/>
<line x1="35.6" y1="731.4" x2="39.4" y2="731.4" stroke="#333333" stroke-width="1.5"/>
<line x1="35.6" y1="806.4" x2="39.4" y2="806.4" stroke="#333333" stroke-width="1.5"/>
<line x1="35.6" y1="875" x2="39.4" y2="875" stroke="#333333" stroke-width="1.5"/>
<rect x="39.4" y="676" width="148.6" height="21" fill="#D9D9D9" stroke="#555555" stroke-width="1.25"/>
<rect x="39.4" y="697" width="148.6" height="215.4" fill="#fff"/>
<line x1="39.4" y1="768.9" x2="188" y2="768.9" stroke="#EBEBEB" stroke-width="1.15"/>
<line x1="39.4" y1="840.6" x2="188" y2="840.6" stroke="#EBEBEB" stroke-width="1.15"/>
<line x1="39.4" y1="910.5" x2="188" y2="910.5" stroke="#EBEBEB" stroke-width="1.15"/>
<line x1="39.4" y1="731.4" x2="188" y2="731.4" stroke="#EBEBEB" stroke-width="1.6"/>
<line x1="39.4" y1="806.4" x2="188" y2="806.4" stroke="#EBEBEB" stroke-width="1.6"/>
<line x1="39.4" y1="875" x2="188" y2="875" stroke="#EBEBEB" stroke-width="1.6"/>
<line x1="67.26" y1="697" x2="67.26" y2="912.4" stroke="#EBEBEB" stroke-width="1.7"/>
<line x1="113.7" y1="697" x2="113.7" y2="912.4" stroke="#EBEBEB" stroke-width="1.7"/>
<line x1="160.14" y1="697" x2="160.14" y2="912.4" stroke="#EBEBEB" stroke-width="1.7"/>
<line x1="67.26" y1="840.6" x2="67.26" y2="849.7" stroke="#333333" stroke-width="1.4"/>
<line x1="67.26" y1="878.4" x2="67.26" y2="888.2" stroke="#333333" stroke-width="1.4"/>
<rect x="57.97" y="849.7" width="18.57" height="28.7" fill="none" stroke="#333333" stroke-width="1.5"/>
<line x1="57.97" y1="862.2" x2="76.55" y2="862.2" stroke="#333333" stroke-width="2.6"/>
<line x1="113.7" y1="818" x2="113.7" y2="844.5" stroke="#333333" stroke-width="1.4"/>
<line x1="113.7" y1="874.5" x2="113.7" y2="893.1" stroke="#333333" stroke-width="1.4"/>
<rect x="104.41" y="844.5" width="18.57" height="30" fill="none" stroke="#333333" stroke-width="1.5"/>
<line x1="104.41" y1="856.2" x2="122.99" y2="856.2" stroke="#333333" stroke-width="2.6"/>
<line x1="160.14" y1="841.7" x2="160.14" y2="849.3" stroke="#333333" stroke-width="1.4"/>
<line x1="160.14" y1="862.9" x2="160.14" y2="879.5" stroke="#333333" stroke-width="1.4"/>
<rect x="150.85" y="849.3" width="18.57" height="13.6" fill="none" stroke="#333333" stroke-width="1.5"/>
<line x1="150.85" y1="854.2" x2="169.42" y2="854.2" stroke="#333333" stroke-width="2.6"/>
<g fill="#FF0000"><circle cx="67.26" cy="706.7" r="2.4"/><circle cx="67.26" cy="840.6" r="2.4"/><circle cx="67.26" cy="843.9" r="2.4"/><circle cx="67.26" cy="847.1" r="2.4"/><circle cx="67.26" cy="850.4" r="2.4"/><circle cx="67.26" cy="855.8" r="2.4"/><circle cx="67.26" cy="859" r="2.4"/><circle cx="67.26" cy="863.3" r="2.4"/><circle cx="67.26" cy="867.6" r="2.4"/><circle cx="67.26" cy="876.3" r="2.4"/><circle cx="67.26" cy="879.5" r="2.4"/><circle cx="67.26" cy="882.8" r="2.4"/><circle cx="67.26" cy="888.2" r="2.4"/><circle cx="113.7" cy="794.2" r="2.4"/><circle cx="113.7" cy="818" r="2.4"/><circle cx="113.7" cy="836.3" r="2.4"/><circle cx="113.7" cy="839.6" r="2.4"/><circle cx="113.7" cy="842.8" r="2.4"/><circle cx="113.7" cy="847.1" r="2.4"/><circle cx="113.7" cy="850.4" r="2.4"/><circle cx="113.7" cy="853.6" r="2.4"/><circle cx="113.7" cy="856.8" r="2.4"/><circle cx="113.7" cy="861.2" r="2.4"/><circle cx="113.7" cy="865" r="2.4"/><circle cx="113.7" cy="874.1" r="2.4"/><circle cx="113.7" cy="877.4" r="2.4"/><circle cx="113.7" cy="880.2" r="2.4"/><circle cx="113.7" cy="884.5" r="2.4"/><circle cx="113.7" cy="893.1" r="2.4"/><circle cx="160.14" cy="841.7" r="2.4"/><circle cx="160.14" cy="843.9" r="2.4"/><circle cx="160.14" cy="847.1" r="2.4"/><circle cx="160.14" cy="850.4" r="2.4"/><circle cx="160.14" cy="853.6" r="2.4"/><circle cx="160.14" cy="856.8" r="2.4"/><circle cx="160.14" cy="860.1" r="2.4"/><circle cx="160.14" cy="863.3" r="2.4"/><circle cx="160.14" cy="868.7" r="2.4"/><circle cx="160.14" cy="872" r="2.4"/><circle cx="160.14" cy="875.2" r="2.4"/><circle cx="160.14" cy="879.5" r="2.4"/></g>
<path d="M67.26 706.7L113.7 794.2M67.26 882.8L113.7 893.1M67.26 840.6L113.7 847.1M67.26 840.6L113.7 865M67.26 843.9L113.7 850.4M67.26 847.1L113.7 877.4M67.26 850.4L113.7 853.6M67.26 855.8L113.7 836.3M67.26 859L113.7 839.6M67.26 859L113.7 884.5M67.26 863.3L113.7 856.8M67.26 867.6L113.7 842.8M67.26 876.3L113.7 861.2M67.26 879.5L113.7 874.1M67.26 888.2L113.7 880.2M113.7 794.2L160.14 841.7M113.7 818L160.14 843.9M113.7 893.1L160.14 879.5M113.7 836.3L160.14 847.1M113.7 839.6L160.14 850.4M113.7 842.8L160.14 853.6M113.7 847.1L160.14 860.1M113.7 850.4L160.14 872M113.7 853.6L160.14 856.8M113.7 856.8L160.14 847.1M113.7 861.2L160.14 868.7M113.7 865L160.14 853.6M113.7 874.1L160.14 863.3M113.7 877.4L160.14 860.1M113.7 880.2L160.14 875.2M113.7 884.5L160.14 868.7" fill="none" stroke="#000" stroke-width="1.75" stroke-dasharray="1.6 4.45"/>
<rect x="39.4" y="697" width="148.6" height="215.4" fill="none" stroke="#333333" stroke-width="1.3"/>
<line x1="38.9" y1="696.7" x2="188.5" y2="696.7" stroke="#333333" stroke-width="1.5"/>
<line x1="67.26" y1="912.4" x2="67.26" y2="916.7" stroke="#333333" stroke-width="1.5"/>
<line x1="113.7" y1="912.4" x2="113.7" y2="916.7" stroke="#333333" stroke-width="1.5"/>
<line x1="160.14" y1="912.4" x2="160.14" y2="916.7" stroke="#333333" stroke-width="1.5"/>
<rect x="195" y="676" width="148.6" height="21" fill="#D9D9D9" stroke="#555555" stroke-width="1.25"/>
<rect x="195" y="697" width="148.6" height="215.4" fill="#fff"/>
<line x1="195" y1="768.9" x2="343.6" y2="768.9" stroke="#EBEBEB" stroke-width="1.15"/>
<line x1="195" y1="840.6" x2="343.6" y2="840.6" stroke="#EBEBEB" stroke-width="1.15"/>
<line x1="195" y1="910.5" x2="343.6" y2="910.5" stroke="#EBEBEB" stroke-width="1.15"/>
<line x1="195" y1="731.4" x2="343.6" y2="731.4" stroke="#EBEBEB" stroke-width="1.6"/>
<line x1="195" y1="806.4" x2="343.6" y2="806.4" stroke="#EBEBEB" stroke-width="1.6"/>
<line x1="195" y1="875" x2="343.6" y2="875" stroke="#EBEBEB" stroke-width="1.6"/>
<line x1="235.53" y1="697" x2="235.53" y2="912.4" stroke="#EBEBEB" stroke-width="1.7"/>
<line x1="303.07" y1="697" x2="303.07" y2="912.4" stroke="#EBEBEB" stroke-width="1.7"/>
<line x1="235.53" y1="831.1" x2="235.53" y2="856.1" stroke="#333333" stroke-width="1.4"/>
<line x1="235.53" y1="875" x2="235.53" y2="902.8" stroke="#333333" stroke-width="1.4"/>
<rect x="222.02" y="856.1" width="27.02" height="18.9" fill="none" stroke="#333333" stroke-width="1.5"/>
<line x1="222.02" y1="862.2" x2="249.04" y2="862.2" stroke="#333333" stroke-width="2.6"/>
<line x1="303.07" y1="835.4" x2="303.07" y2="850.7" stroke="#333333" stroke-width="1.4"/>
<line x1="303.07" y1="869.8" x2="303.07" y2="887.6" stroke="#333333" stroke-width="1.4"/>
<rect x="289.56" y="850.7" width="27.02" height="19.1" fill="none" stroke="#333333" stroke-width="1.5"/>
<line x1="289.56" y1="859.3" x2="316.58" y2="859.3" stroke="#333333" stroke-width="2.6"/>
<g fill="#0000FF"><circle cx="235.53" cy="713.7" r="2.4"/><circle cx="235.53" cy="831.1" r="2.4"/><circle cx="235.53" cy="839.8" r="2.4"/><circle cx="235.53" cy="842.4" r="2.4"/><circle cx="235.53" cy="849.6" r="2.4"/><circle cx="235.53" cy="855" r="2.4"/><circle cx="235.53" cy="858.3" r="2.4"/><circle cx="235.53" cy="862.6" r="2.4"/><circle cx="235.53" cy="868" r="2.4"/><circle cx="235.53" cy="871.3" r="2.4"/><circle cx="235.53" cy="875" r="2.4"/><circle cx="235.53" cy="885.4" r="2.4"/><circle cx="235.53" cy="898" r="2.4"/><circle cx="235.53" cy="902.8" r="2.4"/><circle cx="303.07" cy="835.4" r="2.4"/><circle cx="303.07" cy="838.7" r="2.4"/><circle cx="303.07" cy="842.4" r="2.4"/><circle cx="303.07" cy="846.3" r="2.4"/><circle cx="303.07" cy="850.7" r="2.4"/><circle cx="303.07" cy="853.9" r="2.4"/><circle cx="303.07" cy="857.2" r="2.4"/><circle cx="303.07" cy="860.4" r="2.4"/><circle cx="303.07" cy="863.7" r="2.4"/><circle cx="303.07" cy="867" r="2.4"/><circle cx="303.07" cy="869.8" r="2.4"/><circle cx="303.07" cy="876.7" r="2.4"/><circle cx="303.07" cy="880" r="2.4"/><circle cx="303.07" cy="883.3" r="2.4"/><circle cx="303.07" cy="887.6" r="2.4"/></g>
<path d="M235.53 713.7L303.07 878M235.53 898L303.07 883.3M235.53 902.8L303.07 887.6M235.53 831.1L303.07 853.9M235.53 839.8L303.07 835.4M235.53 839.8L303.07 857.2M235.53 842.4L303.07 860.4M235.53 849.6L303.07 838.7M235.53 855L303.07 846.3M235.53 858.3L303.07 880M235.53 862.6L303.07 867M235.53 868L303.07 842.4M235.53 871.3L303.07 869.8M235.53 875L303.07 850.7M235.53 885.4L303.07 863.7" fill="none" stroke="#000" stroke-width="1.75" stroke-dasharray="1.6 4.45"/>
<rect x="195" y="697" width="148.6" height="215.4" fill="none" stroke="#333333" stroke-width="1.3"/>
<line x1="194.5" y1="696.7" x2="344.1" y2="696.7" stroke="#333333" stroke-width="1.5"/>
<line x1="235.53" y1="912.4" x2="235.53" y2="916.7" stroke="#333333" stroke-width="1.5"/>
<line x1="303.07" y1="912.4" x2="303.07" y2="916.7" stroke="#333333" stroke-width="1.5"/>
<g style="filter:grayscale(1)" stroke="#222" stroke-width="0.22"><text x="32.6" y="10.5" font-family="Liberation Sans" font-weight="bold" font-size="11.2" fill="#000" stroke="none">a) IFN-ɣ</text><text transform="translate(8.7 134) rotate(-90)" text-anchor="middle" font-family="Liberation Sans" font-size="10" fill="#000">IFN-ɣ (pg/mL)</text><text x="29.8" y="95.95" text-anchor="end" font-family="Liberation Sans" font-size="10" fill="#222222">100</text><text x="29.8" y="165.95" text-anchor="end" font-family="Liberation Sans" font-size="10" fill="#222222">10</text><text x="29.8" y="235.95" text-anchor="end" font-family="Liberation Sans" font-size="10" fill="#222222">1</text><text x="108.5" y="29.7" text-anchor="middle" font-family="Liberation Sans" font-size="10" fill="#1A1A1A">PrEP</text><text transform="translate(72.79 261) rotate(-45)" text-anchor="end" font-family="Liberation Sans" font-size="10" fill="#222222">baseline no PrEP</text><text transform="translate(118.1 261) rotate(-45)" text-anchor="end" font-family="Liberation Sans" font-size="10" fill="#222222">early visit on PrEP</text><text transform="translate(163.41 261) rotate(-45)" text-anchor="end" font-family="Liberation Sans" font-size="10" fill="#222222">last visit on PrEP</text><text x="260.5" y="29.7" text-anchor="middle" font-family="Liberation Sans" font-size="10" fill="#1A1A1A">Non-PrEP</text><text transform="translate(237.15 261) rotate(-45)" text-anchor="end" font-family="Liberation Sans" font-size="10" fill="#222222">baseline no PrEP</text><text transform="translate(303.05 261) rotate(-45)" text-anchor="end" font-family="Liberation Sans" font-size="10" fill="#222222">last visit no PrEP</text><text x="365.4" y="10.2" font-family="Liberation Sans" font-weight="bold" font-size="11.2" fill="#000" stroke="none">b) IL-10</text><text transform="translate(350.8 127.5) rotate(-90)" text-anchor="middle" font-family="Liberation Sans" font-size="10" fill="#000">IL-10 (pg/mL)</text><text x="371.8" y="49.95" text-anchor="end" font-family="Liberation Sans" font-size="10" fill="#222222">3.0</text><text x="371.8" y="112.55" text-anchor="end" font-family="Liberation Sans" font-size="10" fill="#222222">1.0</text><text x="371.8" y="180.85" text-anchor="end" font-family="Liberation Sans" font-size="10" fill="#222222">0.3</text><text x="371.8" y="243.55" text-anchor="end" font-family="Liberation Sans" font-size="10" fill="#222222">0.1</text><text x="451.2" y="29.7" text-anchor="middle" font-family="Liberation Sans" font-size="10" fill="#1A1A1A">PrEP</text><text transform="translate(415.78 260) rotate(-45)" text-anchor="end" font-family="Liberation Sans" font-size="10" fill="#222222">baseline no PrEP</text><text transform="translate(461.9 260) rotate(-45)" text-anchor="end" font-family="Liberation Sans" font-size="10" fill="#222222">early visit on PrEP</text><text transform="translate(508.03 260) rotate(-45)" text-anchor="end" font-family="Liberation Sans" font-size="10" fill="#222222">last visit on PrEP</text><text x="605.2" y="29.7" text-anchor="middle" font-family="Liberation Sans" font-size="10" fill="#1A1A1A">Non-PrEP</text><text transform="translate(582.35 260) rotate(-45)" text-anchor="end" font-family="Liberation Sans" font-size="10" fill="#222222">baseline no PrEP</text><text transform="translate(649.45 260) rotate(-45)" text-anchor="end" font-family="Liberation Sans" font-size="10" fill="#222222">last visit no PrEP</text><text x="36.8" y="342.6" font-family="Liberation Sans" font-weight="bold" font-size="11.2" fill="#000" stroke="none">c) IL-6</text><text transform="translate(12.1 469.7) rotate(-90)" text-anchor="middle" font-family="Liberation Sans" font-size="10" fill="#000">IL-6 (pg/mL)</text><text x="34" y="380.55" text-anchor="end" font-family="Liberation Sans" font-size="10" fill="#222222">3.0</text><text x="34" y="430.95" text-anchor="end" font-family="Liberation Sans" font-size="10" fill="#222222">1.0</text><text x="34" y="486.35" text-anchor="end" font-family="Liberation Sans" font-size="10" fill="#222222">0.3</text><text x="34" y="536.75" text-anchor="end" font-family="Liberation Sans" font-size="10" fill="#222222">0.1</text><text x="113" y="361.4" text-anchor="middle" font-family="Liberation Sans" font-size="10" fill="#1A1A1A">PrEP</text><text transform="translate(80.12 591.4) rotate(-45)" text-anchor="end" font-family="Liberation Sans" font-size="10" fill="#222222">baseline no PrEP</text><text transform="translate(126 591.4) rotate(-45)" text-anchor="end" font-family="Liberation Sans" font-size="10" fill="#222222">early visit on PrEP</text><text transform="translate(171.88 591.4) rotate(-45)" text-anchor="end" font-family="Liberation Sans" font-size="10" fill="#222222">last visit on PrEP</text><text x="267.1" y="361.4" text-anchor="middle" font-family="Liberation Sans" font-size="10" fill="#1A1A1A">Non-PrEP</text><text transform="translate(246.69 591.4) rotate(-45)" text-anchor="end" font-family="Liberation Sans" font-size="10" fill="#222222">baseline no PrEP</text><text transform="translate(313.51 591.4) rotate(-45)" text-anchor="end" font-family="Liberation Sans" font-size="10" fill="#222222">last visit no PrEP</text><text x="377.8" y="341.8" font-family="Liberation Sans" font-weight="bold" font-size="11.2" fill="#000" stroke="none">d) IL-8</text><text transform="translate(361.9 466.1) rotate(-90)" text-anchor="middle" font-family="Liberation Sans" font-size="10" fill="#000">IL-8 (pg/mL)</text><text x="381.1" y="375.15" text-anchor="end" font-family="Liberation Sans" font-size="10" fill="#222222">100</text><text x="381.1" y="455.35" text-anchor="end" font-family="Liberation Sans" font-size="10" fill="#222222">30</text><text x="381.1" y="528.15" text-anchor="end" font-family="Liberation Sans" font-size="10" fill="#222222">10</text><text x="458.6" y="361.4" text-anchor="middle" font-family="Liberation Sans" font-size="10" fill="#1A1A1A">PrEP</text><text transform="translate(425.18 591.2) rotate(-45)" text-anchor="end" font-family="Liberation Sans" font-size="10" fill="#222222">baseline no PrEP</text><text transform="translate(470.8 591.2) rotate(-45)" text-anchor="end" font-family="Liberation Sans" font-size="10" fill="#222222">early visit on PrEP</text><text transform="translate(516.43 591.2) rotate(-45)" text-anchor="end" font-family="Liberation Sans" font-size="10" fill="#222222">last visit on PrEP</text><text x="611.5" y="361.4" text-anchor="middle" font-family="Liberation Sans" font-size="10" fill="#1A1A1A">Non-PrEP</text><text transform="translate(590.56 591.2) rotate(-45)" text-anchor="end" font-family="Liberation Sans" font-size="10" fill="#222222">baseline no PrEP</text><text transform="translate(656.84 591.2) rotate(-45)" text-anchor="end" font-family="Liberation Sans" font-size="10" fill="#222222">last visit no PrEP</text><text x="30.8" y="669.7" font-family="Liberation Sans" font-weight="bold" font-size="11.2" fill="#000" stroke="none">e) TNF-α</text><text transform="translate(13.9 775.8) rotate(-90)" text-anchor="middle" font-family="Liberation Sans" font-size="10" fill="#000">TNF-α (pg/mL)</text><text x="34.7" y="734.95" text-anchor="end" font-family="Liberation Sans" font-size="10" fill="#222222">10</text><text x="34.7" y="809.95" text-anchor="end" font-family="Liberation Sans" font-size="10" fill="#222222">3</text><text x="34.7" y="878.55" text-anchor="end" font-family="Liberation Sans" font-size="10" fill="#222222">1</text><text x="113.7" y="690.6" text-anchor="middle" font-family="Liberation Sans" font-size="10" fill="#1A1A1A">PrEP</text><text transform="translate(75.96 921.5) rotate(-45)" text-anchor="end" font-family="Liberation Sans" font-size="10" fill="#222222">baseline no PrEP</text><text transform="translate(122.4 921.5) rotate(-45)" text-anchor="end" font-family="Liberation Sans" font-size="10" fill="#222222">early visit on PrEP</text><text transform="translate(168.84 921.5) rotate(-45)" text-anchor="end" font-family="Liberation Sans" font-size="10" fill="#222222">last visit on PrEP</text><text x="269.3" y="690.6" text-anchor="middle" font-family="Liberation Sans" font-size="10" fill="#1A1A1A">Non-PrEP</text><text transform="translate(244.23 921.5) rotate(-45)" text-anchor="end" font-family="Liberation Sans" font-size="10" fill="#222222">baseline no PrEP</text><text transform="translate(311.77 921.5) rotate(-45)" text-anchor="end" font-family="Liberation Sans" font-size="10" fill="#222222">last visit no PrEP</text></g>
</svg>
</body></html>
